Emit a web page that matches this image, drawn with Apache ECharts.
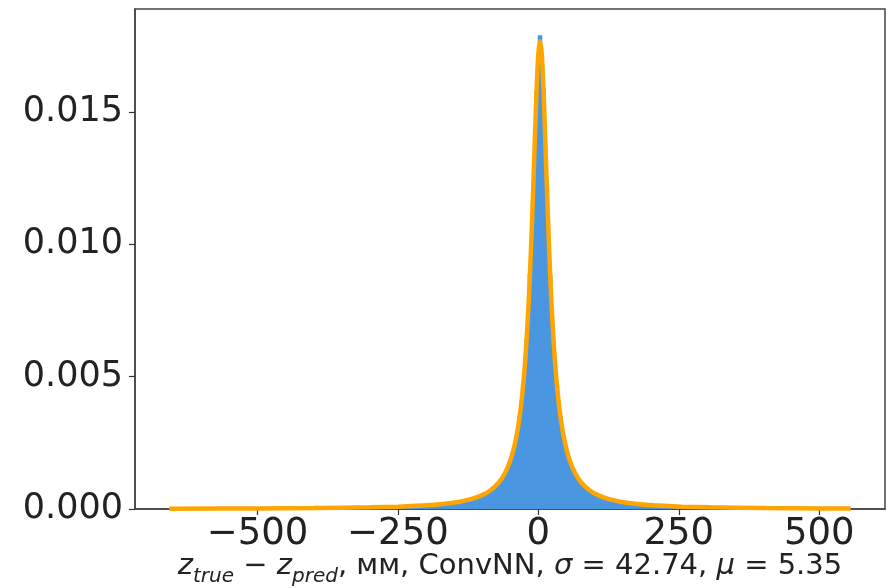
<!DOCTYPE html>
<html>
<head>
<meta charset="utf-8">
<script src="https://cdn.jsdelivr.net/npm/echarts@6/dist/echarts.min.js"></script>
<style>
html,body{margin:0;padding:0;background:#fff;}
#chart{width:892px;height:588px;}
</style>
</head>
<body>
<div id="chart"></div>
<script>
// Histogram bin edges (mm) and densities
const binEdges = [-657, -550, -450, -350, -300, -250, -200, -150,
  -144, -138, -132, -126, -120, -114, -108, -102, -96, -90, -84, -78, -72, -66, -60, -54, -48, -42, -36, -30, -24, -18, -12, -6,
  0, 6, 12, 18, 24, 30, 36, 42, 48, 54, 60, 66, 72, 78, 84, 90, 96, 102, 108, 114, 120, 126, 132, 138, 144, 150, 156,
  206, 256, 306, 356, 456, 556];
const binHeights = [0.000016, 0.000025, 0.000038, 0.000055, 0.000075, 0.000110, 0.000180,
  0.000250, 0.000270, 0.000300, 0.000320, 0.000350, 0.000390, 0.000425, 0.000480, 0.000530, 0.000600, 0.000680, 0.000770, 0.000890,
  0.001040, 0.001220, 0.001450, 0.001770, 0.002180, 0.002740, 0.003540, 0.004700, 0.006400, 0.008900, 0.012300, 0.015800,
  0.017900,
  0.015900, 0.012200, 0.008850, 0.006350, 0.004680, 0.003530, 0.002750, 0.002170, 0.001770, 0.001460, 0.001220, 0.001040,
  0.000890, 0.000780, 0.000680, 0.000600, 0.000530, 0.000480, 0.000430, 0.000390, 0.000355, 0.000320, 0.000295, 0.000270, 0.000250,
  0.000180, 0.000110, 0.000075, 0.000055, 0.000035, 0.000022];

// Fitted curve
const curveX = [-657, -500, -400, -300, -250, -200, -170, -140, -120, -100, -85, -70, -60, -50, -42, -35, -28, -22, -17, -13, -9, -6, -3, 0,
  3, 6, 9, 12, 15, 19, 23, 28, 34, 41, 48, 56, 66, 76, 91, 106, 126, 146, 176, 206, 256, 306, 406, 506, 556];
const curveY = [0.0000131, 0.0000226, 0.0000352, 0.0000622, 0.0000890, 0.000138, 0.000189, 0.000276, 0.000371, 0.000524, 0.000710,
  0.001013, 0.001334, 0.001828, 0.002439, 0.003240, 0.004458, 0.006036, 0.007911, 0.009877, 0.012244, 0.014144, 0.015912, 0.017202,
  0.017680, 0.017202, 0.015912, 0.014144, 0.012244, 0.009877, 0.007911, 0.006036, 0.004458, 0.003240, 0.002439, 0.001828, 0.001334,
  0.001013, 0.000710, 0.000524, 0.000371, 0.000276, 0.000189, 0.000138, 0.0000890, 0.0000622, 0.0000352, 0.0000226, 0.0000187];

const xTicks = [-500, -250, 0, 250, 500];
const yTicks = [0, 0.005, 0.010, 0.015];

const histData = binHeights.map((h, i) => [binEdges[i], binEdges[i + 1], h]);
const curveData = curveX.map((x, i) => [x, curveY[i]]);

const chart = echarts.init(document.getElementById('chart'), null, {renderer: 'canvas'});
const font = 'DejaVu Sans';
chart.setOption({
  animation: false,
  backgroundColor: '#ffffff',
  grid: {left: 135, right: 7, top: 9, bottom: 79, outerBoundsMode: 'none', containLabel: false,
    show: true, borderColor: '#444', borderWidth: 1.5, backgroundColor: 'transparent'},
  xAxis: {
    type: 'value', min: -718, max: 617,
    axisLine: {show: true, onZero: false, lineStyle: {color: '#444', width: 1.5}},
    axisTick: {show: true, customValues: xTicks, length: 6, lineStyle: {color: '#333', width: 1.2}},
    axisLabel: {customValues: xTicks, fontFamily: font, fontSize: 37, color: '#222', margin: 7,
      formatter: v => String(v).replace('-', '\u2212')},
    splitLine: {show: false},
    name: '{i|z}{s|true}{n| \u2212 }{i|z}{s|pred}{n|, мм, ConvNN, }{i|σ}{n| = 42.74, }{i|μ}{n| = 5.35}',
    nameLocation: 'middle', nameGap: 43, nameMoveOverlap: false,
    nameTextStyle: {
      fontFamily: font, fontSize: 29, color: '#222',
      rich: {
        i: {fontFamily: font, fontStyle: 'italic', fontSize: 29, color: '#222'},
        s: {fontFamily: font, fontStyle: 'italic', fontSize: 20, color: '#222', verticalAlign: 'bottom', padding: [0, 0, -6, 0]},
        n: {fontFamily: font, fontSize: 29, color: '#222'}
      }
    }
  },
  yAxis: {
    type: 'value', min: 0, max: 0.01889,
    axisLine: {show: true, onZero: false, lineStyle: {color: '#444', width: 1.5}},
    axisTick: {show: true, customValues: yTicks, length: 6, lineStyle: {color: '#333', width: 1.2}},
    axisLabel: {customValues: yTicks, fontFamily: font, fontSize: 35, color: '#222', margin: 12,
      formatter: v => v.toFixed(3)},
    splitLine: {show: false}
  },
  series: [
    {
      type: 'custom',
      data: histData,
      encode: {x: [0, 1], y: 2},
      z: 2,
      renderItem: (params, api) => {
        const p0 = api.coord([api.value(0), api.value(2)]);
        const p1 = api.coord([api.value(1), 0]);
        return {
          type: 'rect',
          shape: {x: p0[0] - 0.6, y: p0[1], width: p1[0] - p0[0] + 1.2, height: p1[1] - p0[1]},
          style: {fill: '#4A96E0'}
        };
      }
    },
    {
      type: 'line',
      data: curveData,
      showSymbol: false,
      smooth: 0.2,
      z: 3,
      lineStyle: {color: '#FFA500', width: 4.5},
      itemStyle: {color: '#FFA500'}
    }
  ]
});
</script>
</body>
</html>
